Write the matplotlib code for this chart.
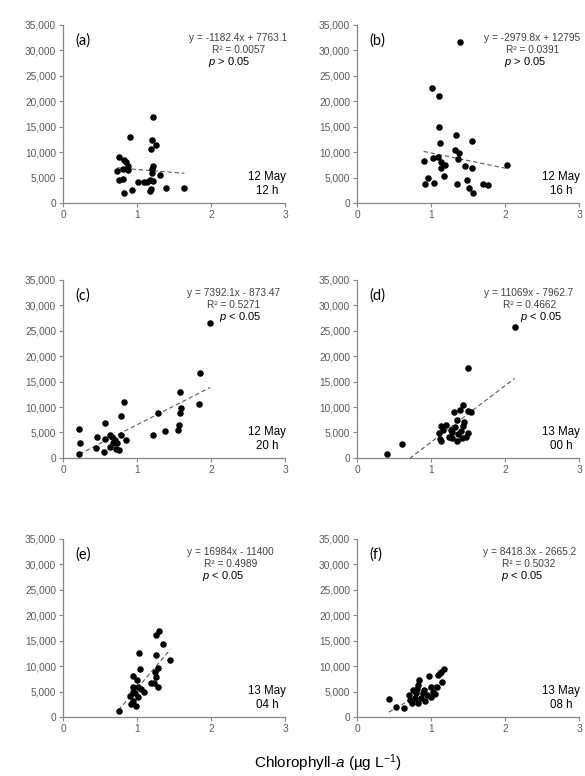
import numpy as np
import matplotlib
matplotlib.use("Agg")
import matplotlib.pyplot as plt
from matplotlib.ticker import StrMethodFormatter

plt.rcParams["font.family"] = ["Liberation Sans", "DejaVu Sans"]
plt.rcParams["mathtext.fontset"] = "custom"
plt.rcParams["mathtext.rm"] = "Liberation Sans"
plt.rcParams["mathtext.it"] = "Liberation Sans:italic"

# ── Data ──────────────────────────────────────────────────────────────────────
a_x = [0.73, 0.76, 0.76, 0.81, 0.82, 0.85, 0.88, 0.88, 0.81, 0.82, 0.93, 0.91, 1.02, 1.09, 1.14,
       1.17, 1.21, 1.22, 1.20, 1.25, 1.19, 1.21, 1.20, 1.20, 1.31, 1.19, 1.18, 1.39, 1.64]
a_y = [6300, 9000, 4600, 4800, 8450, 8000, 7300, 6500, 6600, 2050, 2600, 12900, 4150, 4100, 4200,
       4600, 4400, 16850, 12400, 11400, 10600, 7300, 6600, 5800, 5500, 2700, 2400, 3000, 2950]

b_x = [1.39, 1.01, 1.11, 1.11, 1.12, 1.34, 1.55, 1.32, 1.38, 1.03, 1.09, 1.36, 0.90, 1.13, 1.19,
       1.46, 1.56, 1.13, 2.02, 1.17, 0.96, 1.49, 0.92, 1.04, 1.35, 1.51, 1.57, 1.70, 1.77]
b_y = [31500, 22500, 21000, 15000, 11800, 13400, 12200, 10400, 9900, 8900, 8950, 8550, 8200, 7950,
       7400, 7250, 6950, 6800, 7500, 5350, 5000, 4450, 3700, 3950, 3800, 2950, 1950, 3800, 3500]

c_x = [1.99, 1.85, 1.84, 1.58, 1.60, 1.58, 1.57, 1.56, 1.28, 1.21, 1.38, 0.82, 0.79, 0.57, 0.22,
       0.23, 0.22, 0.46, 0.44, 0.56, 0.57, 0.63, 0.66, 0.68, 0.73, 0.63, 0.71, 0.75, 0.78, 0.85, 0.70]
c_y = [26500, 16700, 10500, 12950, 9800, 8800, 6400, 5550, 8800, 4450, 5200, 11000, 8250, 6900,
       5750, 2950, 850, 4100, 1950, 1150, 3750, 4450, 4100, 2950, 2950, 2150, 1850, 1500, 4450, 3450, 3450]

d_x = [0.40, 0.61, 2.13, 1.50, 1.43, 1.31, 1.39, 1.50, 1.54, 1.35, 1.45, 1.14, 1.20, 1.11, 1.16,
       1.27, 1.32, 1.29, 1.43, 1.41, 1.36, 1.50, 1.24, 1.29, 1.35, 1.42, 1.47, 1.12, 1.14]
d_y = [850, 2800, 25700, 17650, 10450, 9050, 9500, 9200, 9050, 7500, 7050, 6300, 6400, 4900, 5450,
       5550, 6100, 5100, 6200, 5250, 4750, 4900, 4100, 4000, 3350, 3900, 4100, 3800, 3250]

e_x = [0.75, 1.30, 1.25, 1.35, 1.03, 1.26, 1.45, 1.04, 1.28, 1.24, 0.95, 1.00, 1.26, 1.19, 1.23,
       1.28, 0.95, 1.02, 0.94, 1.05, 1.10, 0.90, 1.01, 0.94, 0.92, 0.99, 0.97]
e_y = [1200, 16850, 16050, 14300, 12600, 12150, 11150, 9350, 9550, 8900, 8100, 7250, 7900, 6600,
       6600, 5800, 5950, 5800, 4950, 5400, 4950, 4100, 4000, 3150, 2500, 2200, 4750]

f_x = [0.43, 0.52, 0.64, 0.70, 0.72, 0.74, 0.78, 0.80, 0.82, 0.82, 0.84, 0.81, 0.87, 0.92, 0.94,
       0.97, 1.00, 1.02, 1.06, 1.00, 1.08, 1.15, 1.10, 1.13, 1.17, 1.12, 0.75, 0.91, 0.89]
f_y = [3450, 2000, 1700, 4300, 3350, 2700, 3650, 4650, 2700, 6250, 7250, 5500, 3650, 3150, 4300,
       8050, 5950, 4950, 4450, 4000, 5950, 6900, 8250, 8900, 9350, 8700, 5300, 5300, 4650]

panel_labels = ["(a)", "(b)", "(c)", "(d)", "(e)", "(f)"]
slopes       = [-1182.4, -2979.8, 7392.1, 11069, 16984, 8418.3]
intercepts   = [7763.1, 12795, -873.47, -7962.7, -11400, -2665.2]
eq_texts     = ["y = -1182.4x + 7763.1", "y = -2979.8x + 12795", "y = 7392.1x - 873.47",
                "y = 11069x - 7962.7", "y = 16984x - 11400", "y = 8418.3x - 2665.2"]
r2_texts     = ["R² = 0.0057", "R² = 0.0391", "R² = 0.5271", "R² = 0.4662", "R² = 0.4989", "R² = 0.5032"]
p_texts      = [r"$\it{p}$ > 0.05", r"$\it{p}$ > 0.05", r"$\it{p}$ < 0.05",
                r"$\it{p}$ < 0.05", r"$\it{p}$ < 0.05", r"$\it{p}$ < 0.05"]
dates        = ["12 May\n12 h", "12 May\n16 h", "12 May\n20 h",
                "13 May\n00 h", "13 May\n04 h", "13 May\n08 h"]

xs = [a_x, b_x, c_x, d_x, e_x, f_x]
ys = [a_y, b_y, c_y, d_y, e_y, f_y]

# text placement (axes fraction) per panel
eq_cx = [0.79, 0.79, 0.77, 0.775, 0.755, 0.775]
p_cx  = [0.75, 0.755, 0.80, 0.83, 0.72, 0.745]

# ── Figure ────────────────────────────────────────────────────────────────────
fig = plt.figure(figsize=(5.85, 7.76), dpi=100)
lefts   = [0.1077, 0.6103]
bottoms = [0.7384, 0.4098, 0.0760]
W, H = 0.3795, 0.2300
gray = "#868686"

for i in range(6):
    ax = fig.add_axes([lefts[i % 2], bottoms[i // 2], W, H])
    x = np.array(xs[i])
    y = np.array(ys[i])
    ax.scatter(x, y, s=22, color="black", zorder=3, linewidths=0)

    xl = np.array([x.min(), x.max()])
    ax.plot(xl, slopes[i] * xl + intercepts[i], ls=(0, (4, 2.5)), color="#595959", lw=0.8, zorder=2)

    ax.set_xlim(0, 3)
    ax.set_ylim(0, 35000)
    ax.set_xticks([0, 1, 2, 3])
    ax.set_yticks(range(0, 35001, 5000))
    ax.yaxis.set_major_formatter(StrMethodFormatter("{x:,.0f}"))
    for side in ["top", "right"]:
        ax.spines[side].set_visible(False)
    for side in ["left", "bottom"]:
        ax.spines[side].set_color(gray)
        ax.spines[side].set_linewidth(0.9)
    ax.tick_params(colors=gray, labelcolor="#595959", labelsize=7.3, length=3, width=0.8, pad=2)

    ax.text(0.054, 0.91, panel_labels[i], transform=ax.transAxes, ha="left", va="center",
            fontsize=10.5, family="Lato")
    ax.text(eq_cx[i], 0.925, eq_texts[i], transform=ax.transAxes, ha="center", va="center",
            fontsize=7.3, color="#404040")
    ax.text(eq_cx[i], 0.86, r2_texts[i], transform=ax.transAxes, ha="center", va="center",
            fontsize=7.3, color="#404040")
    ax.text(p_cx[i], 0.79, p_texts[i], transform=ax.transAxes, ha="center", va="center",
            fontsize=8, color="black")
    ax.text(0.92, 0.107, dates[i], transform=ax.transAxes, ha="center", va="center",
            fontsize=8.3, color="black", linespacing=1.2, multialignment="center")

fig.text(0.56, 0.017, r"Chlorophyll-$\it{a}$ (µg L$^{-1}$)", ha="center", va="center", fontsize=11)

plt.savefig("out.png", dpi=100)
plt.close()
